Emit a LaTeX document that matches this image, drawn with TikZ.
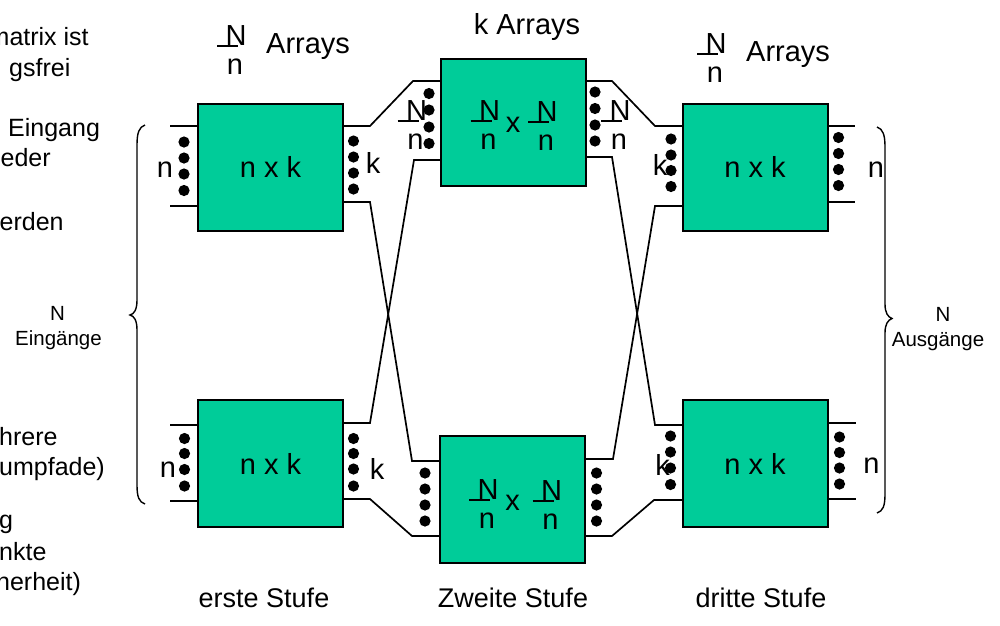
\documentclass[tikz,border=0pt]{standalone}
\usepackage{fontspec}
\setmainfont{Liberation Sans}
\definecolor{boxgreen}{RGB}{0,204,153}
\newcommand\bigtxt{\fontsize{29}{34}\selectfont}
\newcommand\stagetxt{\fontsize{27}{32}\selectfont}
\newcommand\sidetxt{\fontsize{25}{30}\selectfont}
\newcommand\bracetxt{\fontsize{20.5}{24}\selectfont}
% N over n with the bar shifted to the left
\newcommand\fracNn[3]{%
  \node[lbl] (#1N) at (#2,#3) {N};
  \node[lbl] (#1n) at (#2-1,#3+29) {n};
  \draw[fracbar] (#2-19,#3+1) -- (#2+2,#3+1);
}
\begin{document}
\begin{tikzpicture}[x=1pt,y=-1pt,
  blk/.style={draw=black, line width=2pt, fill=boxgreen, minimum width=145pt,
              minimum height=127pt, inner sep=0pt, font=\bigtxt},
  lbl/.style={font=\bigtxt, inner sep=0pt, anchor=base},
  stage/.style={font=\stagetxt, inner sep=0pt, anchor=base},
  side/.style={font=\sidetxt, inner sep=0pt, anchor=base west},
  brlbl/.style={font=\bracetxt, inner sep=0pt, anchor=base},
  wire/.style={line width=1.7pt, line join=miter},
  fracbar/.style={line width=1.5pt},
  brace/.style={line width=1.4pt}]
\useasboundingbox (0,0) rectangle (1000,625);
\clip (0,0) rectangle (1000,625);

% switching arrays of the three stages
\node[blk] (A1) at (270.5,167) {n x k};
\node[blk] (A2) at (270.5,463.5) {n x k};
\node[blk] (B1) at (513,122) {};
\node[blk] (B2) at (512.5,499) {};
\node[blk] (C1) at (755,167) {n x k};
\node[blk] (C2) at (755,463.5) {n x k};

% ports
\coordinate (A1i1) at (198,126);  \coordinate (A1i1e) at (170,126);
\coordinate (A1i2) at (198,206);  \coordinate (A1i2e) at (170,206);
\coordinate (A2i1) at (198,425);  \coordinate (A2i1e) at (170,425);
\coordinate (A2i2) at (198,501);  \coordinate (A2i2e) at (170,501);
\coordinate (C1o1) at (828,126);  \coordinate (C1o1e) at (855,126);
\coordinate (C1o2) at (828,202);  \coordinate (C1o2e) at (855,202);
\coordinate (C2o1) at (828,423);  \coordinate (C2o1e) at (856,423);
\coordinate (C2o2) at (828,499);  \coordinate (C2o2e) at (856,499);

\coordinate (A1o1) at (343,126);  \coordinate (B1i1) at (440,81);
\coordinate (A1o2) at (343,202);  \coordinate (B2i1) at (440,461);
\coordinate (A2o1) at (343,423);  \coordinate (B1i2) at (440,160);
\coordinate (A2o2) at (343,499);  \coordinate (B2i2) at (440,536);
\coordinate (B1o1) at (586,81);   \coordinate (C1i1) at (682,126);
\coordinate (B1o2) at (586,157);  \coordinate (C2i1) at (682,425);
\coordinate (B2o1) at (585,459);  \coordinate (C1i2) at (682,206);
\coordinate (B2o2) at (585,536);  \coordinate (C2i2) at (682,500);

% input and output stubs
\foreach \p in {A1i1,A1i2,A2i1,A2i2,C1o1,C1o2,C2o1,C2o2}
  \draw[wire] (\p) -- (\p e);

% interstage links
\draw[wire] (A1o1) -- ++(27,0) -- (413,81)  -- (B1i1);
\draw[wire] (A1o2) -- ++(27,0) -- (412,461) -- (B2i1);
\draw[wire] (A2o1) -- ++(27,0) -- (414,160) -- (B1i2);
\draw[wire] (A2o2) -- ++(27,0) -- (412,536) -- (B2i2);
\draw[wire] (B1o1) -- ++(26,0) -- (655,126) -- (C1i1);
\draw[wire] (B1o2) -- ++(26,0) -- (655,425) -- (C2i1);
\draw[wire] (B2o1) -- ++(28,0) -- (655,206) -- (C1i2);
\draw[wire] (B2o2) -- ++(27,0) -- (654,500) -- (C2i2);

% port counts
\node[lbl] (lA1n) at (165,177) {n};
\node[lbl] (lA1k) at (373,173.5) {k};
\node[lbl] (lC1k) at (660,175) {k};
\node[lbl] (lC1n) at (876,177) {n};
\node[lbl] (lA2n) at (168,477) {n};
\node[lbl] (lA2k) at (377,479.5) {k};
\node[lbl] (lC2k) at (662.5,475) {k};
\node[lbl] (lC2n) at (871.5,473.5) {n};
\fracNn{lB1l}{416.5}{120}
\fracNn{lB1r}{620}{120}

% labels of the middle arrays
\fracNn{mB1a}{489.5}{120}
\node[lbl] (mB1x) at (513,132.5) {x};
\fracNn{mB1b}{547}{121}
\fracNn{mB2a}{488}{499}
\node[lbl] (mB2x) at (512.5,510) {x};
\fracNn{mB2b}{551.5}{500}

% line dots
\foreach \x/\ys in {184/{142,158,174,190.5}, 353.5/{141,157,173,189},
                    429/{93.5,110,127,143.5}, 595/{92,108.5,125,141},
                    671/{139,155,170.5,186.5}, 838.5/{137.5,153.5,169.5,185.5},
                    184.5/{438.5,453.5,469.5,486}, 353.5/{438.5,453.5,469,486},
                    425/{473,489,505,521}, 596.5/{473,489,505,521},
                    670.5/{436,452,468,484.5}, 839.5/{437,452.5,468,484}}
  \foreach \y in \ys
    \fill (\x,\y) circle[radius=5.6pt];

% stage headings
\fracNn{hA}{236}{45}
\node[lbl, anchor=base west] (hAarr) at (266,53.5) {Arrays};
\node[lbl] (hB) at (527,34) {k Arrays};
\fracNn{hC}{716}{53}
\node[lbl, anchor=base west] (hCarr) at (746,61.5) {Arrays};

\node[stage] (s1) at (264,607) {erste Stufe};
\node[stage] (s2) at (513,607) {Zweite Stufe};
\node[stage] (s3) at (761,607) {dritte Stufe};

% braces over all inputs and outputs
\draw[brace] (145,125) .. controls (139,127) and (137,133) .. (137,145)
  -- (137,300) .. controls (137,310) and (134,314) .. (130,315)
  .. controls (134,316) and (137,320) .. (137,330)
  -- (137,485) .. controls (137,497) and (139,502) .. (145,504);
\draw[brace] (877,127) .. controls (883,129) and (885,135) .. (885,147)
  -- (885,304) .. controls (885,313) and (888,317) .. (892,318.5)
  .. controls (888,320) and (885,324) .. (885,333)
  -- (885,494) .. controls (885,506) and (883,511) .. (877,513);
\node[brlbl] (inN) at (57.5,320) {N};
\node[brlbl] (inT) at (58.5,345) {Eingänge};
\node[brlbl] (outN) at (943,321.5) {N};
\node[brlbl] (outT) at (938,346.5) {Ausgänge};

% running notes at the left edge
\node[side] (t1) at (-11.5,45) {matrix ist};
\node[side] (t2) at (9,76) {gsfrei};
\node[side] (t3) at (8,136.5) {Eingang};
\node[side] (t4) at (0.5,166.5) {eder};
\node[side] (t5) at (-0.5,230) {erden};
\node[side] (t6) at (-1,445) {hrere};
\node[side] (t7) at (-1,475) {umpfade)};
\node[side] (t8) at (-1,528) {g};
\node[side] (t9) at (-1,560) {nkte};
\node[side] (t10) at (-4,590) {herheit)};
\end{tikzpicture}
\end{document}
